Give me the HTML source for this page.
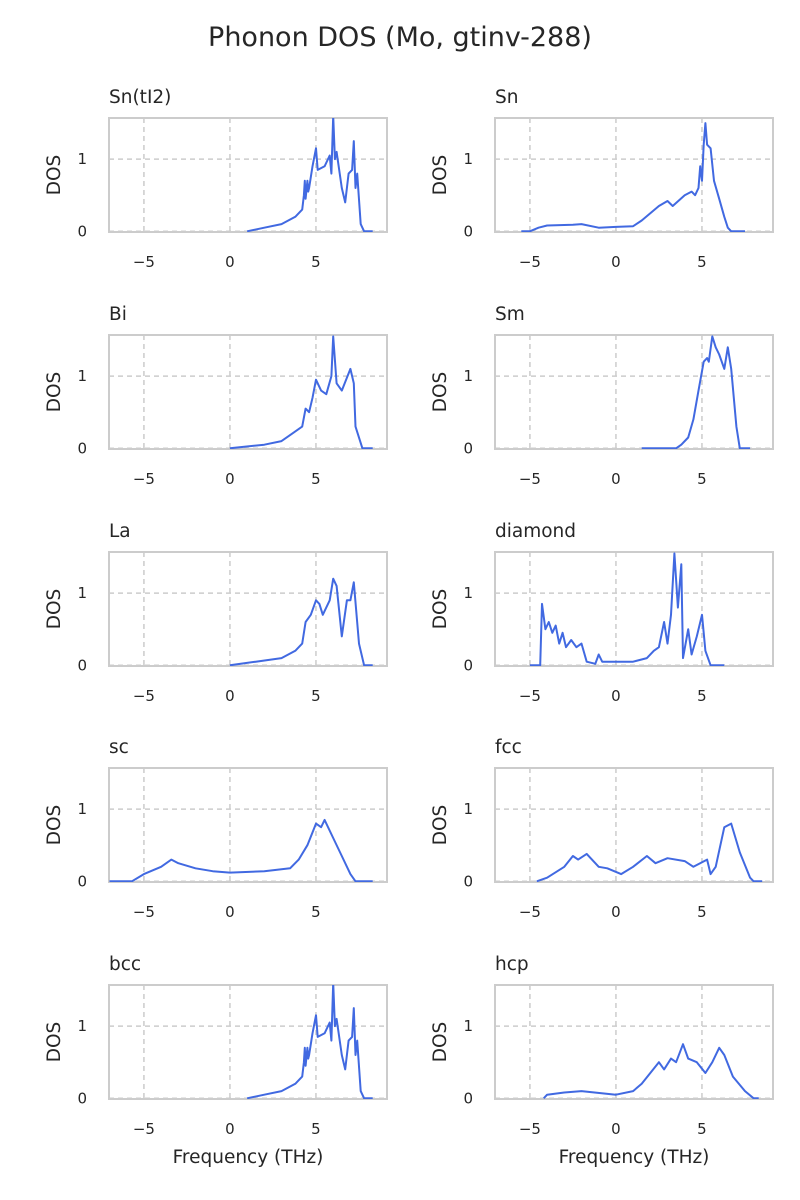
<!DOCTYPE html>
<html><head><meta charset="utf-8"><style>
html,body{margin:0;padding:0;background:#fff;}
svg{display:block;font-family:"DejaVu Sans","Liberation Sans",sans-serif;}
</style></head><body>
<svg id="fig" width="800" height="1200" viewBox="0 0 800 1200" xmlns="http://www.w3.org/2000/svg">
<rect width="800" height="1200" fill="#fff"/>
<text x="400" y="46" text-anchor="middle" font-size="27" fill="#262626">Phonon DOS (Mo, gtinv-288)</text>
</svg>
<script>
const panelNames = ["Sn(tI2)","Sn","Bi","Sm","La","diamond","sc","fcc","bcc","hcp"];
const xTicks = [-5, 0, 5];
const yTicks = [0, 1];
const xTickLabels = ["\u22125","0","5"];
const yTickLabels = ["0","1"];
const freqSnTI2 = [1.0,2,3,3.8,4.2,4.3,4.35,4.4,4.5,4.55,4.6,4.8,5.0,5.1,5.5,5.8,5.9,6.0,6.1,6.2,6.5,6.7,6.9,7.1,7.2,7.3,7.4,7.6,7.8,8.3];
const dosSnTI2  = [0,0.05,0.1,0.2,0.3,0.5,0.7,0.45,0.7,0.55,0.6,0.9,1.15,0.85,0.9,1.05,0.8,1.6,1.0,1.1,0.6,0.4,0.8,0.85,1.25,0.6,0.8,0.1,0,0];
const freqSn = [-5.5,-5,-4.5,-4,-2.5,-2,-1,0,1,1.5,2,2.5,3,3.3,4,4.4,4.6,4.8,4.9,5.0,5.1,5.2,5.3,5.5,5.7,6,6.3,6.5,6.7,7.5];
const dosSn  = [0,0,0.05,0.08,0.09,0.1,0.05,0.06,0.07,0.15,0.25,0.35,0.42,0.35,0.5,0.55,0.5,0.6,0.9,0.7,1.2,1.5,1.2,1.15,0.7,0.45,0.2,0.05,0,0];
const freqBi = [0,2,3,3.6,4.2,4.4,4.6,4.8,5.0,5.3,5.6,5.9,6.0,6.2,6.5,7.0,7.2,7.3,7.7,8.3];
const dosBi  = [0,0.05,0.1,0.2,0.3,0.55,0.5,0.7,0.95,0.8,0.75,1.0,1.55,0.9,0.8,1.1,0.9,0.3,0,0];
const freqSm = [1.5,3.5,3.8,4.2,4.5,4.8,5.1,5.3,5.4,5.6,5.8,6.0,6.3,6.5,6.7,7.0,7.2,7.8];
const dosSm  = [0,0,0.05,0.15,0.4,0.8,1.2,1.25,1.2,1.55,1.4,1.3,1.1,1.4,1.1,0.3,0,0];
const freqLa = [0,1.5,3,3.8,4.2,4.4,4.7,5.0,5.2,5.4,5.8,6.0,6.2,6.5,6.8,7.0,7.2,7.5,7.8,8.3];
const dosLa  = [0,0.05,0.1,0.2,0.3,0.6,0.7,0.9,0.85,0.7,0.9,1.2,1.1,0.4,0.9,0.9,1.15,0.3,0,0];
const freqDiamond = [-5,-4.4,-4.3,-4.1,-3.9,-3.7,-3.5,-3.3,-3.1,-2.9,-2.6,-2.3,-2.0,-1.7,-1.2,-1.0,-0.8,0,1.0,1.8,2.2,2.5,2.8,3.0,3.2,3.4,3.6,3.8,3.9,4.2,4.4,4.7,5.0,5.2,5.5,6.3];
const dosDiamond  = [0,0,0.85,0.5,0.6,0.45,0.55,0.3,0.45,0.25,0.35,0.25,0.3,0.05,0.02,0.15,0.05,0.05,0.05,0.1,0.2,0.25,0.6,0.3,0.7,1.55,0.8,1.4,0.1,0.5,0.15,0.4,0.7,0.2,0,0];
const freqSc = [-7,-5.7,-5,-4,-3.4,-3,-2,-1,0,2,3.5,4,4.5,5,5.3,5.5,6,6.5,7,7.3,8.3];
const dosSc  = [0,0,0.1,0.2,0.3,0.25,0.18,0.14,0.12,0.14,0.18,0.3,0.5,0.8,0.75,0.85,0.6,0.35,0.1,0,0];
const freqFcc = [-4.6,-4,-3,-2.5,-2.2,-1.7,-1,-0.5,0.3,1,1.8,2.3,3,4,4.5,5.3,5.5,5.8,6.3,6.7,7.2,7.8,8,8.5];
const dosFcc  = [0,0.05,0.2,0.35,0.3,0.38,0.2,0.18,0.1,0.2,0.35,0.25,0.32,0.28,0.2,0.3,0.1,0.2,0.75,0.8,0.4,0.05,0,0];
const freqBcc = freqSnTI2.slice();
const dosBcc  = dosSnTI2.slice();
const freqHcp = [-4.2,-4,-3,-2,0,1,1.5,2,2.5,2.8,3.2,3.5,3.9,4.2,4.7,5.2,5.6,6.0,6.3,6.8,7.5,8,8.3];
const dosHcp  = [0,0.05,0.08,0.1,0.05,0.1,0.2,0.35,0.5,0.4,0.55,0.5,0.75,0.55,0.5,0.35,0.5,0.7,0.6,0.3,0.1,0,0];
const panelFreqs = [freqSnTI2,freqSn,freqBi,freqSm,freqLa,freqDiamond,freqSc,freqFcc,freqBcc,freqHcp];
const panelDos = [dosSnTI2,dosSn,dosBi,dosSm,dosLa,dosDiamond,dosSc,dosFcc,dosBcc,dosHcp];

const NS="http://www.w3.org/2000/svg";
const svg=document.getElementById('fig');
function mk(tag,attrs,parent){const e=document.createElementNS(NS,tag);for(const k in attrs)e.setAttribute(k,attrs[k]);(parent||svg).appendChild(e);return e;}
const XMIN=-7.03,XMAX=9.13,YMIN=-0.01,YMAX=1.57;
const colX=[109,495], W=278, H=114, rowY=[118,335,552,768,985];
panelNames.forEach((name,i)=>{
  const col=i%2,row=Math.floor(i/2);
  const x0=colX[col],y0=rowY[row];
  const sx=v=>x0+(v-XMIN)/(XMAX-XMIN)*W;
  const sy=v=>y0+H-(v-YMIN)/(YMAX-YMIN)*H;
  const slug=name.replace(/[^a-zA-Z0-9]+/g,'-').toLowerCase().replace(/-$/,'');
  const g=mk('g',{});
  
  
  const clipId='clip'+i;
  const cp=mk('clipPath',{id:clipId},g);mk('rect',{x:x0,y:y0,width:W,height:H},cp);
  xTicks.forEach((t,k)=>{
    const gl=mk('line',{x1:sx(t),x2:sx(t),y1:y0,y2:y0+H,stroke:'#cccccc','stroke-width':1.5,'stroke-dasharray':'5,4'},g);
    
    
    const tl=mk('text',{x:sx(t),y:y0+H+35,'text-anchor':'middle','font-size':15,fill:'#262626'},g);
    tl.textContent=xTickLabels[k];
    
    
  });
  yTicks.forEach((t,k)=>{
    const gl=mk('line',{x1:x0,x2:x0+W,y1:sy(t),y2:sy(t),stroke:'#cccccc','stroke-width':1.5,'stroke-dasharray':'5,4'},g);
    
    
    const tl=mk('text',{x:x0-22,y:sy(t)+5,'text-anchor':'end','font-size':15,fill:'#262626'},g);
    tl.textContent=yTickLabels[k];
    
    
  });
  const fr2=mk('rect',{x:x0,y:y0,width:W,height:H,fill:'none',stroke:'#cccccc','stroke-width':2},g);
  
  
  const fr=panelFreqs[i],ds=panelDos[i];
  const d=fr.map((f,k)=>(k?'L':'M')+sx(f).toFixed(1)+','+sy(ds[k]).toFixed(1)).join(' ');
  const p=mk('path',{d:d,fill:'none',stroke:'#4169e1','stroke-width':2,'stroke-linejoin':'round','clip-path':'url(#'+clipId+')'},g);
  
  
  const tt=mk('text',{x:x0,y:y0-15,'font-size':18.5,fill:'#262626'},g);
  tt.textContent=name;
  
  
  const yl=mk('text',{x:0,y:0,'font-size':18.5,fill:'#262626','text-anchor':'middle',transform:'translate('+(x0-49)+','+(y0+H/2)+') rotate(-90)'},g);
  yl.textContent='DOS';
  
  
  if(row===4){
    const xl=mk('text',{x:x0+W/2,y:y0+H+64,'font-size':18.5,fill:'#262626','text-anchor':'middle'},g);
    xl.textContent='Frequency (THz)';
    
    
  }
});
</script>
</body></html>
